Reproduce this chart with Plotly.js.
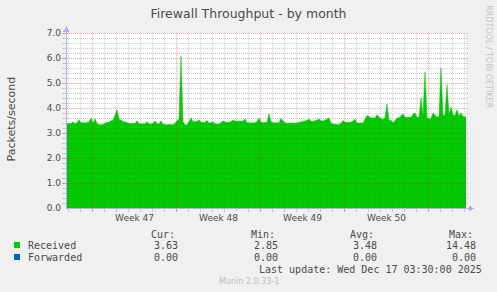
<!DOCTYPE html>
<html>
<head>
<meta charset="utf-8">
<script src="https://cdn.plot.ly/plotly-3.0.1.min.js"></script>
<style>
  html, body { margin: 0; padding: 0; background: #F0F0F0; }
  #chart { width: 497px; height: 292px; }
  .shapelayer path { shape-rendering: crispEdges; }
</style>
</head>
<body>
<div id="chart"></div>
<script>
// ---------------- data ----------------
const chartTitle = 'Firewall Throughput - by month';
const yAxisTitle = 'Packets/second';
const weekLabels = ['Week 47', 'Week 48', 'Week 49', 'Week 50'];
const weekCenters = ['2025-11-19 12:00', '2025-11-26 12:00', '2025-12-03 12:00', '2025-12-10 12:00'];
const seriesNames = ['Received', 'Forwarded'];
const seriesColors = ['#00CC00', '#0066B3'];
const curValues = [3.63, 0.00];
const minValues = [2.85, 0.00];
const avgValues = [3.48, 0.00];
const maxValues = [14.48, 0.00];
const lastUpdate = 'Last update: Wed Dec 17 03:30:00 2025';
const muninVersion = 'Munin 2.0.33-1';
const rrdCredit = 'RRDTOOL / TOBI OETIKER';
// Received packets/second, one sample every 4 hours starting 2025-11-13 21:00
const receivedValues = [
  3.37,3.37,3.38,3.45,3.37,3.40,3.53,3.40,3.42,3.40,
  3.41,3.44,3.60,3.40,3.57,3.38,3.33,3.32,3.34,3.40,
  3.41,3.44,3.49,3.50,3.70,3.93,3.55,3.53,3.46,3.45,
  3.42,3.38,3.37,3.36,3.38,3.49,3.37,3.36,3.38,3.37,
  3.45,3.37,3.36,3.38,3.49,3.37,3.36,3.49,3.34,3.32,
  3.33,3.34,3.32,3.33,3.38,3.50,3.55,6.07,3.45,3.33,
  3.32,3.45,3.60,3.45,3.44,3.46,3.53,3.43,3.42,3.43,
  3.50,3.40,3.41,3.45,3.37,3.36,3.35,3.42,3.49,3.43,
  3.42,3.43,3.46,3.51,3.48,3.47,3.46,3.47,3.48,3.56,
  3.41,3.40,3.39,3.40,3.41,3.45,3.60,3.43,3.42,3.44,
  3.43,3.77,3.45,3.41,3.40,3.39,3.41,3.58,3.50,3.40,
  3.39,3.40,3.41,3.40,3.39,3.41,3.45,3.47,3.46,3.48,
  3.50,3.56,3.47,3.46,3.48,3.52,3.56,3.49,3.48,3.50,
  3.55,3.60,3.40,3.36,3.34,3.33,3.33,3.40,3.50,3.43,
  3.44,3.42,3.43,3.48,3.55,3.40,3.41,3.39,3.40,3.55,
  3.70,3.66,3.60,3.61,3.59,3.73,3.62,3.56,3.55,3.60,
  4.16,3.50,3.51,3.40,3.50,3.60,3.61,3.70,3.76,3.63,
  3.64,3.62,3.63,3.75,3.80,3.63,3.62,4.40,3.70,5.45,
  3.62,3.55,3.60,3.80,3.70,3.63,3.66,5.60,3.70,3.72,
  4.93,3.75,4.03,3.72,3.70,3.93,3.68,3.80,3.66,3.63,
  3.63
];

// ---------------- time axis ----------------
const HOUR = 3600e3, DAY = 24 * HOUR;
const T0 = Date.UTC(2025, 10, 13, 21, 0);
const T1 = T0 + 798 * HOUR;
const fmt = t => new Date(t).toISOString().slice(0, 16).replace('T', ' ');
const times = receivedValues.map((_, i) => fmt(T0 + i * 4 * HOUR));

// ---------------- geometry helpers ----------------
const W = 497, H = 292, L = 67, R = 31, T = 33, B = 84;
const PW = W - L - R, PH = H - T - B;
const px = x => (x - L) / PW;
const py = y => (H - B - y) / PH;

const textColor = '#4a4a4a';
const minorGrid = 'rgba(100,100,100,0.33)';
const majorGrid = 'rgba(255,0,0,0.36)';
const axisColor = '#a9b1ff';

const shapes = [];
// vertical grid (days, weeks in red)
for (let t = Date.UTC(2025, 10, 14); t <= T1; t += DAY) {
  const isWeek = new Date(t).getUTCDay() === 0;
  const c = isWeek ? majorGrid : minorGrid;
  shapes.push({type: 'line', xref: 'x', yref: 'paper', x0: fmt(t), x1: fmt(t), y0: 0, y1: 1,
    line: {color: c, width: 1, dash: '1px,1px'}, layer: 'above'});
  shapes.push({type: 'line', xref: 'x', yref: 'paper', x0: fmt(t), x1: fmt(t), y0: py(208.5), y1: py(211.5),
    line: {color: isWeek ? 'rgba(255,60,60,0.55)' : 'rgba(128,128,128,0.35)', width: 1}, layer: 'above'});
}
// horizontal grid (every 0.2, red every 1.0)
for (let k = 1; k <= 35; k++) {
  const v = k / 5;
  const isMajor = k % 5 === 0;
  shapes.push({type: 'line', xref: 'paper', yref: 'y', x0: px(67), x1: px(469), y0: v, y1: v,
    line: {color: isMajor ? majorGrid : minorGrid, width: 1, dash: '1px,1px'}, layer: 'above'});
  shapes.push({type: 'line', xref: 'paper', yref: 'y', x0: px(62), x1: px(66), y0: v, y1: v,
    line: {color: isMajor ? 'rgba(255,60,60,0.55)' : 'rgba(128,128,128,0.35)', width: 1}, layer: 'above'});
}
// axis lines + arrows
shapes.push({type: 'line', xref: 'paper', yref: 'paper', x0: px(66), x1: px(470), y0: py(208.5), y1: py(208.5),
  line: {color: axisColor, width: 1}, layer: 'above'});
shapes.push({type: 'line', xref: 'paper', yref: 'paper', x0: px(66.5), x1: px(66.5), y0: py(208.5), y1: py(29),
  line: {color: axisColor, width: 1}, layer: 'above'});
shapes.push({type: 'path', xref: 'paper', yref: 'paper',
  path: `M ${px(469)},${py(205.5)} L ${px(474)},${py(208.5)} L ${px(469)},${py(211.5)} Z`,
  fillcolor: axisColor, line: {width: 0}, layer: 'above'});
shapes.push({type: 'path', xref: 'paper', yref: 'paper',
  path: `M ${px(63.5)},${py(31.5)} L ${px(66.5)},${py(26)} L ${px(69.5)},${py(31.5)} Z`,
  fillcolor: axisColor, line: {width: 0}, layer: 'above'});
// legend colour boxes
seriesColors.forEach((c, i) => {
  const y0 = 242 + 12 * i;
  shapes.push({type: 'rect', xref: 'paper', yref: 'paper', x0: px(14), x1: px(20), y0: py(y0), y1: py(y0 + 6),
    fillcolor: c, line: {width: 0}});
});

// ---------------- annotations ----------------
const mono = 'DejaVu Sans Mono, monospace';
const sans = 'DejaVu Sans, sans-serif';
function txt(text, x, y, anchor, font, size, color, angle) {
  return {text: text, xref: 'paper', yref: 'paper', x: px(x), y: py(y), xanchor: anchor, yanchor: 'middle',
    showarrow: false, borderpad: 0, textangle: angle || 0,
    font: {family: font, size: size, color: color || textColor}};
}
const annotations = [];
annotations.push(txt(yAxisTitle, 10.5, 119, 'center', sans, 11, textColor, -90));
annotations.push(txt(rrdCredit, 488.3, 56.5, 'center', sans, 8, '#c4c4c4', 90));
const colHeads = ['Cur:', 'Min:', 'Avg:', 'Max:'];
const colLeft = [150, 250, 349, 447.7];
const colRight = [179, 279, 378.3, 477.3];
colHeads.forEach((h, j) => annotations.push(txt(h, colLeft[j], 234, 'left', mono, 10)));
const cols = [curValues, minValues, avgValues, maxValues];
seriesNames.forEach((n, i) => {
  const y = 245.7 + 11.6 * i;
  annotations.push(txt(n, 26.5, y, 'left', mono, 10));
  cols.forEach((arr, j) => annotations.push(txt(arr[i].toFixed(2), colRight[j], y, 'right', mono, 10)));
});
annotations.push(txt(lastUpdate, 483.5, 269, 'right', mono, 10));
annotations.push(txt(muninVersion, 248.5, 281, 'center', sans, 8, '#bdbdbd'));

// ---------------- traces ----------------
const traces = [{
  type: 'scatter', mode: 'lines', name: seriesNames[0],
  x: times, y: receivedValues,
  fill: 'tozeroy', fillcolor: seriesColors[0],
  line: {color: seriesColors[0], width: 0.5, shape: 'linear'},
  hoverinfo: 'skip'
}];

const layout = {
  width: W, height: H,
  margin: {l: L, r: R, t: T, b: B, pad: 0},
  paper_bgcolor: '#F0F0F0', plot_bgcolor: '#FFFFFF',
  showlegend: false,
  title: {text: chartTitle, xref: 'container', x: 0.5, yref: 'container', y: 1 - 14 / H, yanchor: 'middle',
    font: {family: sans, size: 12.5, color: textColor}},
  xaxis: {type: 'date', range: [fmt(T0), fmt(T1)], tickmode: 'array', tickvals: weekCenters, ticktext: weekLabels,
    ticks: '', showgrid: false, zeroline: false, showline: false, fixedrange: true, ticklabelstandoff: 3,
    tickfont: {family: sans, size: 9, color: textColor}},
  yaxis: {range: [0, 7], tickmode: 'linear', tick0: 0, dtick: 1, tickformat: '.1f',
    ticks: '', showgrid: false, zeroline: false, showline: false, fixedrange: true, ticklabelstandoff: 5,
    tickfont: {family: sans, size: 9, color: textColor}},
  shapes: shapes,
  annotations: annotations
};

Plotly.newPlot('chart', traces, layout, {staticPlot: true, displayModeBar: false});
</script>
</body>
</html>
